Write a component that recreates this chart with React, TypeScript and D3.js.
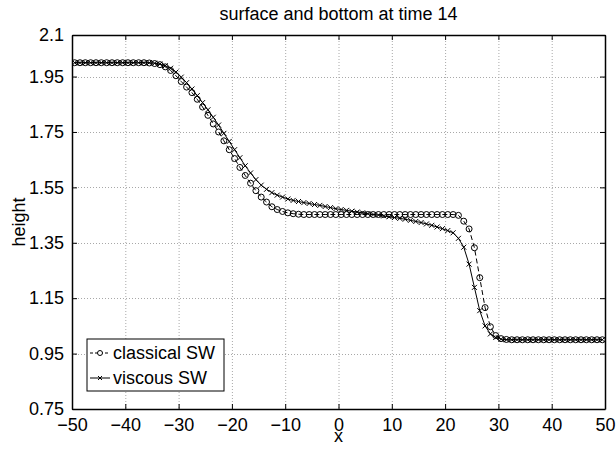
import React, { useEffect, useRef } from 'react'
import * as d3 from 'd3'

// grid points (cell centres) on [-50, 50]
const xGrid = d3.range(-49.5, 50, 1)

// surface height (x = -49.5 ... 49.5)
const classicalSW = [
  2.0, 2.0, 2.0, 2.0, 2.0, 2.0, 2.0, 2.0, 2.0, 2.0, 2.0, 2.0, 2.0, 2.0,
  1.999, 1.997, 1.993, 1.985, 1.972, 1.953, 1.932, 1.912, 1.892, 1.868,
  1.840, 1.810, 1.779, 1.750, 1.718, 1.686, 1.654, 1.622, 1.593, 1.565,
  1.538, 1.515, 1.497, 1.480, 1.470, 1.463, 1.458, 1.455, 1.453,
  1.452, 1.452, 1.452, 1.452, 1.452, 1.452, 1.452, 1.452, 1.452, 1.452,
  1.452, 1.452, 1.452, 1.452, 1.452, 1.452, 1.452, 1.452, 1.452, 1.452,
  1.452, 1.452, 1.452, 1.452, 1.452, 1.452, 1.452, 1.452, 1.452,
  1.449, 1.428, 1.400, 1.332, 1.224, 1.116, 1.047, 1.015, 1.004, 1.001,
  1.0, 1.0, 1.0, 1.0, 1.0, 1.0, 1.0, 1.0, 1.0, 1.0, 1.0, 1.0, 1.0, 1.0,
  1.0, 1.0, 1.0, 1.0,
]

const viscousSW = [
  2.0, 2.0, 2.0, 2.0, 2.0, 2.0, 2.0, 2.0, 2.0, 2.0, 2.0, 2.0, 2.0, 2.0,
  2.0, 1.998, 1.995, 1.989, 1.980, 1.966, 1.948, 1.928, 1.905, 1.881,
  1.856, 1.830, 1.803, 1.775, 1.745, 1.716, 1.686, 1.657, 1.628, 1.602,
  1.578, 1.558, 1.543, 1.531, 1.522, 1.515, 1.508, 1.503, 1.499,
  1.495, 1.492, 1.488, 1.485, 1.481, 1.477, 1.473, 1.470, 1.467, 1.464,
  1.461, 1.458, 1.455, 1.452, 1.450, 1.447, 1.444, 1.441, 1.438, 1.435,
  1.431, 1.427, 1.423, 1.418, 1.413, 1.407, 1.401, 1.394, 1.386,
  1.366, 1.334, 1.273, 1.189, 1.105, 1.050, 1.021, 1.008, 1.002, 1.0,
  1.0, 1.0, 1.0, 1.0, 1.0, 1.0, 1.0, 1.0, 1.0, 1.0, 1.0, 1.0, 1.0, 1.0,
  1.0, 1.0, 1.0, 1.0,
]

const xTicks = [-50, -40, -30, -20, -10, 0, 10, 20, 30, 40, 50]
const xTickLabels = ['\u221250', '\u221240', '\u221230', '\u221220', '\u221210', '0', '10', '20', '30', '40', '50']
const yTicks = [0.75, 0.95, 1.15, 1.35, 1.55, 1.75, 1.95, 2.1]
const yTickLabels = ['0.75', '0.95', '1.15', '1.35', '1.55', '1.75', '1.95', '2.1']
const seriesNames = ['classical SW', 'viscous SW']

const W = 616
const H = 452
const FONT = '"Liberation Sans", Arial, Helvetica, sans-serif'

const App = () => {
  const svgRef = useRef<SVGSVGElement>(null)

  useEffect(() => {
    document.body.style.margin = '0'
    const m = { left: 72, top: 35, right: 11, bottom: 43 }
    const iw = W - m.left - m.right
    const ih = H - m.top - m.bottom

    const svg = d3.select(svgRef.current)
    svg.selectAll('*').remove()

    const x = d3.scaleLinear().domain([-50, 50]).range([0, iw])
    const y = d3.scaleLinear().domain([0.75, 2.1]).range([ih, 0])

    svg.append('defs').append('clipPath').attr('id', 'plotClip')
      .append('rect').attr('width', iw).attr('height', ih)

    const g = svg.append('g').attr('transform', `translate(${m.left},${m.top})`)

    // dotted grid
    const grid = g.append('g').attr('stroke', '#a8a8a8').attr('stroke-dasharray', '1,2').attr('stroke-width', 1)
    grid.selectAll('.gx').data(xTicks).join('line')
      .attr('x1', d => x(d) + 0.5).attr('x2', d => x(d) + 0.5).attr('y1', 0).attr('y2', ih)
    grid.selectAll('.gy').data(yTicks).join('line')
      .attr('y1', d => Math.round(y(d)) + 0.5).attr('y2', d => Math.round(y(d)) + 0.5).attr('x1', 0).attr('x2', iw)

    const plot = g.append('g').attr('clip-path', 'url(#plotClip)')
    const line = d3.line<number>().x((d, i) => x(xGrid[i])).y(d => y(d))

    // classical SW: dashed with circles
    plot.append('path').datum(classicalSW).attr('d', line)
      .attr('fill', 'none').attr('stroke', '#000').attr('stroke-width', 1).attr('stroke-dasharray', '5,3')
    plot.selectAll('.circ').data(classicalSW).join('circle')
      .attr('cx', (d, i) => x(xGrid[i])).attr('cy', d => y(d)).attr('r', 3)
      .attr('fill', 'none').attr('stroke', '#000').attr('stroke-width', 1)

    // viscous SW: solid with crosses
    const cross = 'M-2.5,-2.5L2.5,2.5M-2.5,2.5L2.5,-2.5'
    plot.append('path').datum(viscousSW).attr('d', line)
      .attr('fill', 'none').attr('stroke', '#000').attr('stroke-width', 1)
    plot.selectAll('.crs').data(viscousSW).join('path')
      .attr('d', cross).attr('transform', (d, i) => `translate(${x(xGrid[i])},${y(d)})`)
      .attr('fill', 'none').attr('stroke', '#000').attr('stroke-width', 1)

    // axes, ticks pointing inward on all four sides
    const styleAxis = (sel: any) => {
      sel.attr('font-family', FONT).attr('font-size', 18)
      sel.selectAll('.domain').attr('stroke', '#000').attr('stroke-width', 1.5)
      sel.selectAll('.tick line').attr('stroke', '#000')
      sel.selectAll('.tick text').attr('fill', '#000')
    }
    g.append('g').attr('transform', `translate(0,${ih})`)
      .call(d3.axisBottom(x).tickValues(xTicks).tickSize(-5).tickSizeOuter(0).tickPadding(9)
        .tickFormat((d, i) => xTickLabels[i]))
      .call(styleAxis)
    g.append('g')
      .call(d3.axisTop(x).tickValues(xTicks).tickSize(-5).tickSizeOuter(0).tickFormat(() => ''))
      .call(styleAxis)
    g.append('g')
      .call(d3.axisLeft(y).tickValues(yTicks).tickSize(-5).tickSizeOuter(0).tickPadding(8)
        .tickFormat((d, i) => yTickLabels[i]))
      .call(styleAxis)
    g.append('g').attr('transform', `translate(${iw},0)`)
      .call(d3.axisRight(y).tickValues(yTicks).tickSize(-5).tickSizeOuter(0).tickFormat(() => ''))
      .call(styleAxis)

    // labels
    svg.append('text').attr('x', m.left + iw / 2).attr('y', 20).attr('text-anchor', 'middle')
      .attr('font-family', FONT).attr('font-size', 18).text('surface and bottom at time 14')
    svg.append('text').attr('x', m.left + iw / 2).attr('y', 442).attr('text-anchor', 'middle')
      .attr('font-family', FONT).attr('font-size', 18).text('x')
    svg.append('text').attr('transform', `translate(25,${m.top + ih / 2}) rotate(-90)`).attr('text-anchor', 'middle')
      .attr('font-family', FONT).attr('font-size', 18).text('height')

    // legend
    const lg = svg.append('g').attr('transform', 'translate(87,339)')
    lg.append('rect').attr('width', 137).attr('height', 52).attr('fill', '#fff').attr('stroke', '#000').attr('stroke-width', 1)
    const rows = [14, 39]
    seriesNames.forEach((name, i) => {
      const r = lg.append('g').attr('transform', `translate(0,${rows[i]})`)
      r.append('line').attr('x1', 3).attr('x2', 23).attr('stroke', '#000')
        .attr('stroke-dasharray', i === 0 ? '3,2' : null)
      if (i === 0) {
        r.append('circle').attr('cx', 13).attr('r', 2.5).attr('fill', '#fff').attr('stroke', '#000')
      } else {
        r.append('path').attr('d', 'M-2,-2L2,2M-2,2L2,-2').attr('transform', 'translate(13,0)').attr('stroke', '#000')
      }
      r.append('text').attr('x', 26).attr('dy', '0.35em').attr('font-family', FONT).attr('font-size', 18).text(name)
    })
  }, [])

  return <svg ref={svgRef} width={W} height={H} style={{ display: 'block', background: '#fff' }} />
}

export default App
